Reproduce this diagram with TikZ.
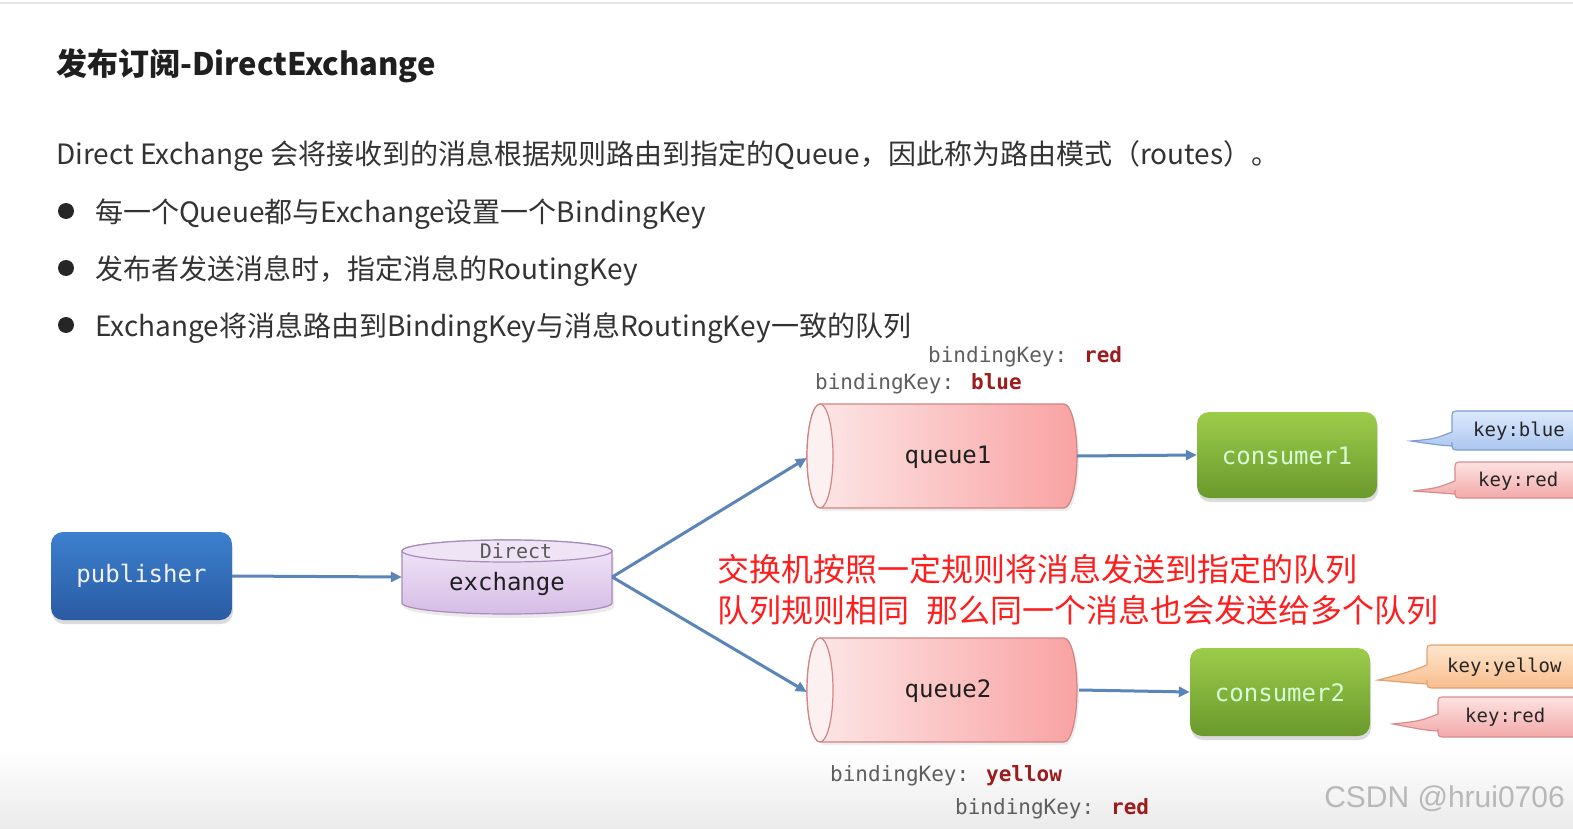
\documentclass[tikz,border=0pt]{standalone}
\usepackage{fontspec}
\setmainfont{Noto Sans CJK SC}
\newfontfamily\cjk{Noto Sans CJK SC}
\newfontfamily\monof{DejaVu Sans Mono}
\newfontfamily\wmf{Liberation Sans}
\usetikzlibrary{arrows.meta,shadows}
\definecolor{txt}{HTML}{333333}
\definecolor{arrowc}{HTML}{5B84B9}
\definecolor{pubtop}{HTML}{3C80CE}
\definecolor{pubbot}{HTML}{2A5BA3}
\definecolor{contop}{HTML}{9DCC4B}
\definecolor{conbot}{HTML}{6A992D}
\definecolor{qleft}{HTML}{FDE8E8}
\definecolor{qright}{HTML}{F9A2A2}
\definecolor{qface}{HTML}{FDF0F0}
\definecolor{qborder}{HTML}{CF8585}
\definecolor{extop}{HTML}{F3E9F9}
\definecolor{exbot}{HTML}{D6BCE6}
\definecolor{exface}{HTML}{EFE4F6}
\definecolor{exborder}{HTML}{A98BBB}
\definecolor{keyval}{HTML}{9E1B1B}
\definecolor{keylab}{HTML}{5E5E5E}
\definecolor{bluet}{HTML}{DDE9FC}
\definecolor{bluem}{HTML}{ABC6F0}
\definecolor{blueb}{HTML}{7E9FD4}
\definecolor{redt}{HTML}{FDE2E2}
\definecolor{redm}{HTML}{F3A9A9}
\definecolor{redb}{HTML}{D98C8C}
\definecolor{oranget}{HTML}{FEE6CE}
\definecolor{orangem}{HTML}{F8BD8C}
\definecolor{orangeb}{HTML}{DFA272}
\definecolor{annot}{HTML}{FF1E1E}
% callout: #1 L, #2 T, #3 B, #4 tip x, #5 tip y, #6 upper base y, #7 colour prefix, #8 lower base y
\newcommand\keycallout[8]{%
  \path[draw=#7b, line width=1.2pt, top color=#7t, bottom color=#7m]
    (#1,#6) -- (#1,#2+8) .. controls (#1,#2) .. (#1+8,#2) -- (1600,#2) -- (1600,#3)
    -- (#1+8,#3) .. controls (#1,#3) .. (#1,#3-8) -- (#1,#8)
    .. controls (#1-14,#8-1) .. (#4,#5) .. controls (#1-18,#6+7) .. (#1,#6) -- cycle;}
\tikzset{
  flow/.style={draw=arrowc, line width=3pt, -{Triangle[length=11pt,width=10pt]}},
  plain/.style={inner sep=0pt, anchor=west},
  bodytext/.style={plain, text=txt, font=\cjk\fontsize{28}{34}\selectfont},
  annottext/.style={plain, text=annot, font=\cjk\fontsize{32}{38}\selectfont},
  bkey/.style={plain, text=keylab, font=\monof\fontsize{21}{25}\selectfont},
  keytext/.style={plain, text=black!85, font=\monof\fontsize{19}{23}\selectfont},
  boxtext/.style={font=\monof\fontsize{24}{29}\selectfont},
  actor/.style={rectangle, rounded corners=12pt, draw=none, boxtext,
    drop shadow={shadow xshift=1pt, shadow yshift=-4pt, opacity=0.28}},
}
\begin{document}
\begin{tikzpicture}[x=1pt,y=-1pt]
\useasboundingbox (0,0) rectangle (1573,829);
\begin{scope}
\clip (0,0) rectangle (1573,829);
\fill[white] (0,0) rectangle (1573,829);
\shade[top color=white, bottom color=black!8] (0,750) rectangle (1573,829);
\draw[black!10, line width=1.5pt] (0,3) -- (1573,3);

% title and text
\node[plain, text=black!88, font=\cjk\bfseries\fontsize{31}{37}\selectfont] (title) at (56,66) {发布订阅-DirectExchange};
\node[bodytext] (intro) at (56,156) {Direct Exchange 会将接收到的消息根据规则路由到指定的Queue，因此称为路由模式（routes）。};
\fill[black!85] (66,211) circle (8);
\fill[black!85] (66,268) circle (8);
\fill[black!85] (66,325) circle (8);
\node[bodytext] (b1) at (95,214) {每一个Queue都与Exchange设置一个BindingKey};
\node[bodytext] (b2) at (95,271) {发布者发送消息时，指定消息的RoutingKey};
\node[bodytext] (b3) at (95,328) {Exchange将消息路由到BindingKey与消息RoutingKey一致的队列};

% publisher
\node[actor, top color=pubtop, bottom color=pubbot, text=white!95!blue,
  minimum width=181pt, minimum height=88pt] (publisher) at (141.5,576) {};
\node[text=white!95!blue, boxtext] (pubname) at (141.5,576) {publisher};

% exchange cylinder
\fill[black, opacity=0.08] (404,555) -- (404,607) arc[start angle=180, end angle=0, x radius=105, y radius=11] -- (614,555) -- cycle;
\path[draw=exborder, line width=1.2pt, top color=extop, bottom color=exbot]
  (402,551) -- (402,603) arc[start angle=180, end angle=0, x radius=105, y radius=11]
  -- (612,551) arc[start angle=0, end angle=-180, x radius=105, y radius=11] -- cycle;
\draw[exborder, line width=1.2pt, fill=exface] (507,551) ellipse[x radius=105, y radius=11];
\node[minimum width=210pt, minimum height=74pt, inner sep=0pt] (exchange) at (507,577) {};
\node[text=black!65, font=\monof\fontsize{20}{24}\selectfont] (exdirect) at (516,551) {Direct};
\node[text=black!88, boxtext] (exname) at (507,584) {exchange};

% queues
\foreach \q/\cy in {queue1/456, queue2/690} {
  \fill[black, opacity=0.07] (822,\cy-49) -- (1066,\cy-49) arc[start angle=-90, end angle=90, x radius=13, y radius=52] -- (822,\cy+55) -- cycle;
  \path[draw=qborder, line width=1.2pt, left color=qleft, right color=qright]
    (820,\cy-52) -- (1064,\cy-52) arc[start angle=-90, end angle=90, x radius=13, y radius=52]
    -- (820,\cy+52) arc[start angle=90, end angle=270, x radius=13, y radius=52] -- cycle;
  \draw[qborder, line width=1.2pt, fill=qface] (820,\cy) ellipse[x radius=13, y radius=52];
  \node[minimum width=270pt, minimum height=104pt, inner sep=0pt] (\q) at (942,\cy) {};
  \node[text=black!88, boxtext] (\q name) at (948,\cy+1) {\q};
}

% consumers
\node[actor, top color=contop, bottom color=conbot,
  minimum width=180pt, minimum height=86pt] (consumer1) at (1287,455) {};
\node[text=white!85!green, boxtext] (c1name) at (1287,456) {consumer1};
\node[actor, top color=contop, bottom color=conbot,
  minimum width=180pt, minimum height=88pt] (consumer2) at (1280,692) {};
\node[text=white!85!green, boxtext] (c2name) at (1280,693) {consumer2};

% connectors
\draw[flow] (publisher.east) -- (exchange.west);
\draw[flow] (exchange.east) -- ([yshift=-2pt]queue1.west);
\draw[flow] (exchange.east) -- ([yshift=-2pt]queue2.west);
\draw[flow] (queue1.east) -- (consumer1.west);
\draw[flow] ([xshift=2pt]queue2.east) -- (consumer2.west);

% binding keys
\node[bkey] (bkred1) at (928,357) {bindingKey: \textcolor{keyval}{\bfseries red}};
\node[bkey] (bkblue) at (815,384) {bindingKey: \textcolor{keyval}{\bfseries blue}};
\node[bkey] (bkyellow) at (830,776) {bindingKey: \textcolor{keyval}{\bfseries yellow}};
\node[bkey] (bkred2) at (955,809) {bindingKey: \textcolor{keyval}{\bfseries red}};

% callouts
\keycallout{1452}{411}{450}{1411}{441}{432}{blue}{446}
\node[keytext] (kblue) at (1473,431) {key:blue};
\keycallout{1455}{462}{498}{1413}{491}{481}{red}{494}
\node[keytext] (kred1) at (1478,481) {key:red};
\keycallout{1427}{645}{688}{1378}{680}{665}{orange}{684}
\node[keytext] (kyellow) at (1447,667) {key:yellow};
\keycallout{1438}{697}{737}{1393}{724}{714}{red}{731}
\node[keytext] (kred2) at (1465,717) {key:red};

% annotation
\node[annottext] (note1) at (717,569) {交换机按照一定规则将消息发送到指定的队列};
\node[annottext] (note2) at (717,610) {队列规则相同\hspace{0.55em}那么同一个消息也会发送给多个队列};

% watermark
\node[anchor=east, inner sep=0pt, text=black!28, font=\wmf\fontsize{30}{36}\selectfont] (wm) at (1565,799) {CSDN @hrui0706};
\end{scope}
\end{tikzpicture}
\end{document}
